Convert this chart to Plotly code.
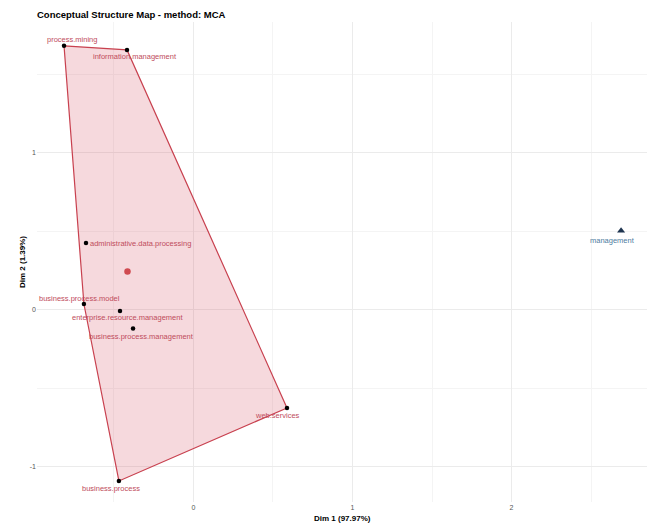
import plotly.graph_objects as go

# Word coordinates on the first two MCA dimensions
cluster1_terms = [
    "process.mining", "information.management", "administrative.data.processing",
    "business.process.model", "enterprise.resource.management",
    "business.process.management", "web.services", "business.process",
]
cluster1_dim1 = [-0.814, -0.418, -0.676, -0.689, -0.462, -0.380, 0.588, -0.469]
cluster1_dim2 = [1.682, 1.656, 0.427, 0.038, -0.006, -0.118, -0.624, -1.089]

cluster2_terms = ["management"]
cluster2_dim1 = [2.689]
cluster2_dim2 = [0.505]

# Label placement (pixel offsets from each point)
label_dx = [7.5, 7.5, 2, -4, 7.5, 8, -9, -7.5]
label_dy = [6, -7, -1, 6, -7, -7.5, -8, -8]
label_anchor = ["center", "center", "left", "center", "center", "center", "center", "center"]

RED = "#C8414F"
LABEL_RED = "#C04C5C"
BLUE_LABEL = "#4F7CA0"
NAVY = "#1F3550"


def convex_hull(pts):
    pts = sorted(set(pts))
    if len(pts) <= 2:
        return pts

    def cross(o, a, b):
        return (a[0] - o[0]) * (b[1] - o[1]) - (a[1] - o[1]) * (b[0] - o[0])

    lower, upper = [], []
    for p in pts:
        while len(lower) >= 2 and cross(lower[-2], lower[-1], p) <= 0:
            lower.pop()
        lower.append(p)
    for p in reversed(pts):
        while len(upper) >= 2 and cross(upper[-2], upper[-1], p) <= 0:
            upper.pop()
        upper.append(p)
    return lower[:-1] + upper[:-1]


hull = convex_hull(list(zip(cluster1_dim1, cluster1_dim2)))
hull.append(hull[0])
hx = [p[0] for p in hull]
hy = [p[1] for p in hull]

cx = sum(cluster1_dim1) / len(cluster1_dim1)
cy = sum(cluster1_dim2) / len(cluster1_dim2)

fig = go.Figure()

fig.add_trace(go.Scatter(
    x=hx, y=hy, mode="lines", fill="toself",
    fillcolor="rgba(214,80,100,0.22)",
    line=dict(color=RED, width=1.2),
    hoverinfo="skip", showlegend=False,
))
fig.add_trace(go.Scatter(
    x=cluster1_dim1, y=cluster1_dim2, mode="markers",
    marker=dict(color="black", size=4.5),
    text=cluster1_terms, showlegend=False,
))
fig.add_trace(go.Scatter(
    x=[cx], y=[cy], mode="markers",
    marker=dict(color="#D04A50", size=6.5),
    showlegend=False,
))
fig.add_trace(go.Scatter(
    x=cluster2_dim1, y=cluster2_dim2, mode="markers",
    marker=dict(color=NAVY, size=7, symbol="triangle-up"),
    text=cluster2_terms, showlegend=False,
))

annotations = []
for t, x, y, dx, dy, anc in zip(cluster1_terms, cluster1_dim1, cluster1_dim2,
                                label_dx, label_dy, label_anchor):
    annotations.append(dict(
        x=x, y=y, xref="x", yref="y", text=t, showarrow=False,
        xshift=dx, yshift=dy, xanchor=anc, yanchor="middle",
        font=dict(size=7.5, color=LABEL_RED, family="Liberation Sans, Arial"),
    ))
for t, x, y in zip(cluster2_terms, cluster2_dim1, cluster2_dim2):
    annotations.append(dict(
        x=x, y=y, xref="x", yref="y", text=t, showarrow=False,
        xshift=-8.5, yshift=-10, xanchor="center", yanchor="middle",
        font=dict(size=7.5, color=BLUE_LABEL, family="Liberation Sans, Arial"),
    ))

# Axis titles
annotations.append(dict(
    x=0.5, y=0, xref="paper", yref="paper", yshift=-16, text="<b>Dim 1 (97.97%)</b>",
    showarrow=False, xanchor="center", yanchor="middle",
    font=dict(size=8, color="black", family="Liberation Sans, Arial"),
))
annotations.append(dict(
    x=0, y=0.5, xref="paper", yref="paper", xshift=-15, text="<b>Dim 2 (1.39%)</b>",
    showarrow=False, xanchor="center", yanchor="middle", textangle=-90,
    font=dict(size=8, color="black", family="Liberation Sans, Arial"),
))

fig.update_layout(
    width=654, height=523,
    margin=dict(l=37, r=7, t=22, b=21),
    paper_bgcolor="white", plot_bgcolor="white",
    title=dict(
        text="<b>Conceptual Structure Map - method: MCA</b>",
        x=37 / 654, xanchor="left", y=1 - 15 / 523, yanchor="middle",
        font=dict(size=9.5, color="black", family="Liberation Sans, Arial"),
    ),
    annotations=annotations,
    showlegend=False,
)
fig.update_xaxes(
    range=[-0.984, 2.852], tickvals=[0, 1, 2], ticktext=["0", "1", "2"],
    showgrid=True, gridcolor="#EBEBEB", gridwidth=1, zeroline=False,
    minor=dict(dtick=0.5, tick0=0, showgrid=True, gridcolor="#F4F4F4", gridwidth=1),
    tickfont=dict(size=7, color="#555555", family="Liberation Sans, Arial"),
    showline=False, ticks="",
)
fig.update_yaxes(
    range=[-1.223, 1.834], tickvals=[-1, 0, 1], ticktext=["-1", "0", "1"],
    showgrid=True, gridcolor="#EBEBEB", gridwidth=1, zeroline=False,
    minor=dict(dtick=0.5, tick0=0, showgrid=True, gridcolor="#F4F4F4", gridwidth=1),
    tickfont=dict(size=7, color="#555555", family="Liberation Sans, Arial"),
    showline=False, ticks="",
)

fig.write_html("out.html")
